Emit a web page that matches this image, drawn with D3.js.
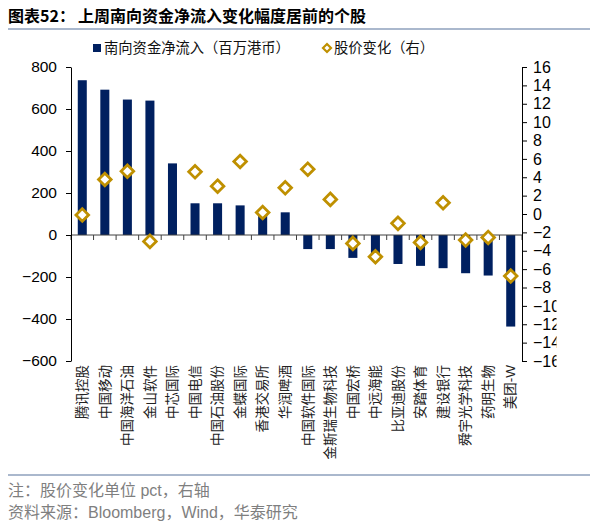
<!DOCTYPE html>
<html><head><meta charset="utf-8">
<script src="https://cdn.jsdelivr.net/npm/d3@7"></script>
<style>
html,body{margin:0;padding:0;background:#fff;}
svg{display:block;}
</style></head>
<body>
<svg id="chart" width="606" height="531"></svg>
<script>
const categories = ["腾讯控股","中国移动","中国海洋石油","金山软件","中芯国际","中国电信","中国石油股份","金蝶国际","香港交易所","华润啤酒","中国软件国际","金斯瑞生物科技","中国宏桥","中远海能","比亚迪股份","安踏体育","建设银行","舜宇光学科技","药明生物","美团-W"];
const netInflow = [737, 692, 645, 640, 341, 151, 151, 141, 100, 108, -67, -67, -109, -100, -138, -147, -158, -182, -193, -436];
const priceChange = [-0.1, 3.76, 4.66, -2.98, null, 4.59, 3.03, 5.72, 0.17, 2.85, 4.88, 1.59, -3.2, -4.65, -1.02, -3.09, 1.22, -2.84, -2.55, -6.75];
const leftTicks = [-600,-400,-200,0,200,400,600,800];
const rightTicks = [-16,-14,-12,-10,-8,-6,-4,-2,0,2,4,6,8,10,12,14,16];
const titleText = ["图表52：", "上周南向资金净流入变化幅度居前的个股"];
const legendLabels = ["南向资金净流入（百万港币）", "股价变化（右）"];
const notes = ["注：股价变化单位 pct，右轴", "资料来源：Bloomberg，Wind，华泰研究"];

const BAR = "#002060", GOLD = "#BF9000", RULE = "#8EA0BC";
const cjk = "'Noto Sans CJK SC', sans-serif";
const latin = "'Liberation Sans', Arial, sans-serif";
const mixed = "'Liberation Sans', 'Noto Sans CJK SC', sans-serif";

const svg = d3.select("#chart");
const L = 71, R = 522, T = 67, B = 361;

const x = d3.scaleBand().domain(categories).range([L, R]);
const yL = d3.scaleLinear().domain([-600, 800]).range([B, T]);
const yR = d3.scaleLinear().domain([-16, 16]).range([B, T]);

// title
const tt = svg.append("text").attr("y", 22).attr("font-family", cjk).attr("font-weight", "bold").attr("font-size", 16).attr("fill", "#000");
tt.append("tspan").attr("x", 8).text(titleText[0]);
tt.append("tspan").attr("x", 78).text(titleText[1]);
svg.append("line").attr("x1", 8).attr("x2", 590).attr("y1", 29).attr("y2", 29).attr("stroke", RULE).attr("stroke-width", 1.5);

// legend
svg.append("rect").attr("x", 93).attr("y", 44).attr("width", 8).attr("height", 8).attr("fill", BAR);
svg.append("text").attr("x", 104).attr("y", 53).attr("font-family", cjk).attr("font-size", 14.3).attr("fill", "#111").text(legendLabels[0]);
const diamondPath = r => `M0,${-r}L${r},0L0,${r}L${-r},0Z`;
svg.append("path").attr("d", diamondPath(4)).attr("transform", "translate(327,48)").attr("fill", "#fff").attr("stroke", GOLD).attr("stroke-width", 2.2);
svg.append("text").attr("x", 334).attr("y", 53).attr("font-family", cjk).attr("font-size", 14.3).attr("fill", "#111").text(legendLabels[1]);

// bars
const bw = x.bandwidth() * 0.4;
svg.append("g").selectAll("rect").data(netInflow).join("rect")
  .attr("x", (d, i) => x(categories[i]) + (x.bandwidth() - bw) / 2)
  .attr("width", bw)
  .attr("y", d => yL(Math.max(0, d)))
  .attr("height", d => Math.abs(yL(d) - yL(0)))
  .attr("fill", BAR);

// zero line with category ticks
const zg = svg.append("g");
zg.append("line").attr("x1", L).attr("x2", R).attr("y1", yL(0)).attr("y2", yL(0)).attr("stroke", "#404040").attr("stroke-width", 1);
const bounds = categories.map(c => x(c)).concat([R]);
zg.selectAll("line.t").data(bounds).join("line").attr("class", "t")
  .attr("x1", d => d).attr("x2", d => d).attr("y1", yL(0)).attr("y2", yL(0) + 5)
  .attr("stroke", "#404040").attr("stroke-width", 1);

// left axis
const la = svg.append("g").attr("transform", `translate(${L},0)`)
  .call(d3.axisLeft(yL).tickValues(leftTicks).tickSize(5).tickSizeOuter(0).tickPadding(9));
la.select(".domain").attr("stroke", "#000");
la.selectAll(".tick line").attr("stroke", "#000");
la.selectAll("text").attr("font-family", latin).attr("font-size", 15.5).attr("fill", "#000");

// right axis (labels clipped at the right like the reference)
svg.append("clipPath").attr("id", "rclip").append("rect").attr("x", -R).attr("y", 0).attr("width", 556.5).attr("height", 531);
const ra = svg.append("g").attr("transform", `translate(${R},0)`)
  .call(d3.axisRight(yR).tickValues(rightTicks).tickSize(5).tickSizeOuter(0).tickPadding(6));
ra.attr("clip-path", "url(#rclip)");
ra.select(".domain").attr("stroke", "#000");
ra.selectAll(".tick line").attr("stroke", "#000");
ra.selectAll("text").attr("font-family", latin).attr("font-size", 16).attr("fill", "#000");

// diamonds
svg.append("g").selectAll("path").data(priceChange.map((v, i) => ({v, c: categories[i]})).filter(d => d.v !== null)).join("path")
  .attr("d", diamondPath(6.3))
  .attr("transform", d => `translate(${x(d.c) + x.bandwidth() / 2},${yR(d.v)})`)
  .attr("fill", "#fff").attr("stroke", GOLD).attr("stroke-width", 2.8);

// category labels rotated -90
svg.append("g").selectAll("text").data(categories).join("text")
  .attr("transform", d => `translate(${x(d) + x.bandwidth() / 2},365) rotate(-90)`)
  .attr("text-anchor", "end").attr("dy", "0.35em")
  .attr("font-family", mixed).attr("font-size", 13.5).attr("fill", "#222")
  .text(d => d);

// footer
svg.append("line").attr("x1", 8).attr("x2", 590).attr("y1", 475).attr("y2", 475).attr("stroke", RULE).attr("stroke-width", 1.5);
svg.selectAll("text.note").data(notes).join("text").attr("class", "note")
  .attr("x", 8).attr("y", (d, i) => 496 + i * 22)
  .attr("font-family", mixed).attr("font-size", 16).attr("fill", "#7f7f7f")
  .text(d => d);
</script>
</body></html>
